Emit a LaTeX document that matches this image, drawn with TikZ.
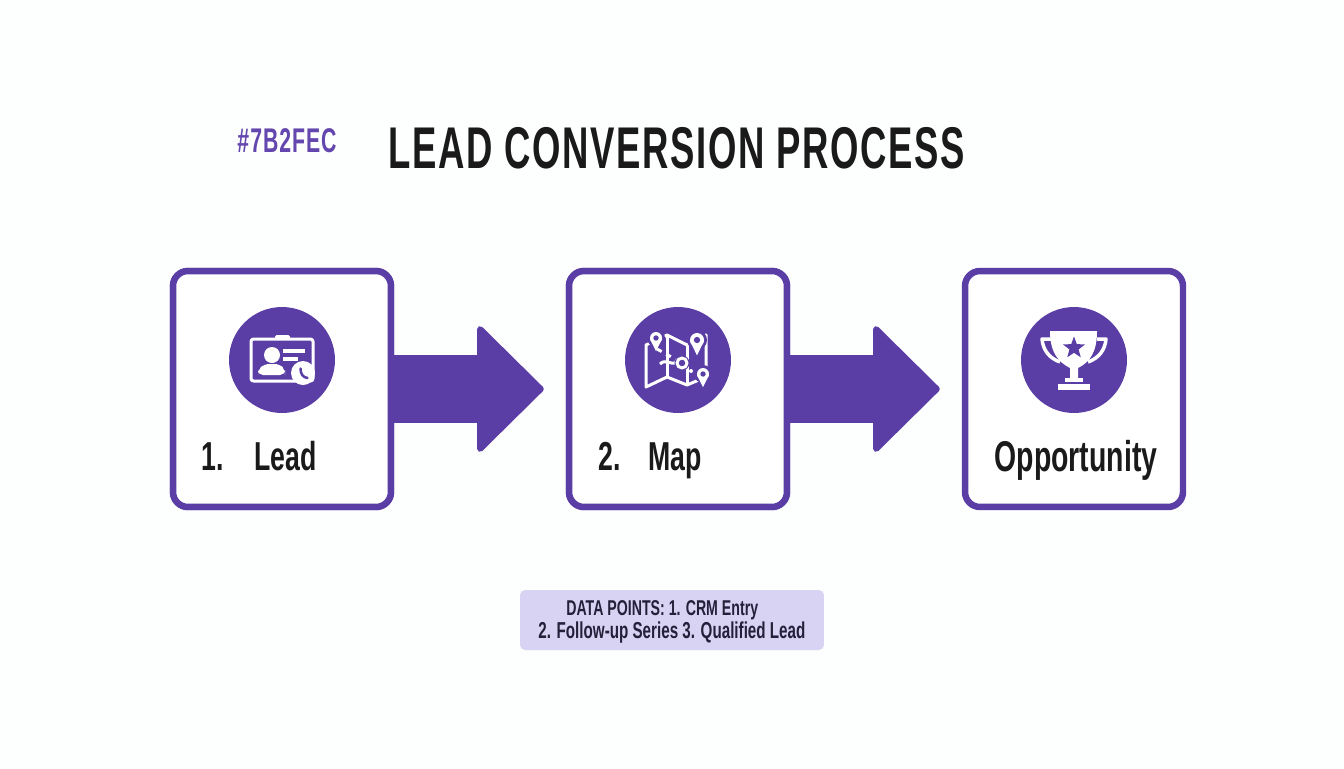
\documentclass[tikz,border=0pt]{standalone}
\usepackage{fontspec}
\usepackage{tikz}
\usepackage{xcolor}
\usetikzlibrary{calc,arrows.meta,shapes.geometric}
\newfontfamily\condfont[FakeStretch=0.66]{Liberation Sans}
\newfontfamily\titlefont[FakeStretch=0.62,LetterSpace=2.8]{Liberation Sans}
\definecolor{highlightcolor}{HTML}{5A3EA5}
\definecolor{hashcolor}{HTML}{6346AE}
\definecolor{washedcolor}{HTML}{D9D3F3}
\definecolor{textcolor}{HTML}{1A1A1A}
\definecolor{notecolor}{HTML}{24203A}
\definecolor{pagecolor}{HTML}{FDFEFE}
\tikzstyle{stepbox} = [
    draw=highlightcolor,
    fill=white,
    line width=0.13cm,
    rectangle,
    rounded corners=0.3cm,
    inner sep=0pt,
    minimum width=4.36cm,
    minimum height=4.72cm
    ]
\tikzstyle{iconback} = [
    fill=highlightcolor,
    circle,
    inner sep=0pt,
    minimum size=2.12cm
    ]
\tikzstyle{steplabel} = [
    text=textcolor,
    font=\condfont\bfseries\fontsize{23}{27}\selectfont,
    inner sep=0pt
    ]
\tikzstyle{notelabel} = [
    text=notecolor,
    inner sep=0pt,
    anchor=base west
    ]
\tikzstyle{flowarrow} = [
    highlightcolor,
    line width=1.36cm,
    shorten >=0.44cm,
    -{Triangle[length=1.36cm,width=2.66cm,round,line width=0.12cm]}
    ]
\tikzstyle{iconline} = [
    draw=white,
    line width=0.06cm,
    line join=round
    ]

\begin{document}
\begin{tikzpicture}[x=0.02cm,y=-0.02cm]
\useasboundingbox (0,0) rectangle (1344,768);
\fill[pagecolor] (0,0) rectangle (1344,768);

\node[text=hashcolor, inner sep=0pt, font=\titlefont\bfseries\fontsize{19.5}{22}\selectfont] (hash) at (287,141) {\#7B2FEC};
\node[text=textcolor, inner sep=0pt, font=\titlefont\bfseries\fontsize{33.5}{38}\selectfont] (title) at (677,148) {LEAD CONVERSION PROCESS};

\node[stepbox] (lead) at (282,389) {};
\node[stepbox] (map) at (678,389) {};
\node[stepbox] (opportunity) at (1074,389) {};

\draw[flowarrow] (lead) -- (map);
\draw[flowarrow] (map) -- (opportunity);
\node[stepbox] at (lead) {};
\node[stepbox] at (map) {};

\node[iconback] (leadicon) at (282,360) {};
\node[iconback] (mapicon) at (678,360) {};
\node[iconback] (cupicon) at (1074,360) {};

% id card
\draw[iconline, rounded corners=0.05cm] (251,339) rectangle (313,381);
\fill[white, rounded corners=0.03cm] (275,339) -- (275,335) -- (290,335) -- (290,339) -- cycle;
\fill[white] (272,355) circle (8);
\fill[white, rounded corners=0.1cm] (258,375) -- (258,370) -- (264,364) -- (280,364) -- (285,370) -- (285,375) -- cycle;
\fill[white] (283,349) rectangle (305,353);
\fill[white] (283,357) rectangle (298,361);
\fill[white] (303,373) circle (12);
\draw[highlightcolor, line width=0.05cm, line cap=round] (300.5,368.5) .. controls (300.5,374) and (303,377.5) .. (307.5,378);

% map
\draw[iconline] (646,345) -- (667,335) -- (687,345) -- (706,335) -- (706,377) -- (687,385) -- (667,377) -- (646,387) -- cycle;
\draw[iconline] (667,335) -- (667,377);
\draw[iconline] (687,345) -- (687,385);
\draw[iconline, dashed] (657,349) -- (682,363);
\draw[iconline] (660,364) .. controls (666,358) and (670,366) .. (677,362);
\fill[white] (691,371) circle (2);
\fill[highlightcolor] (682,363) circle (7.5);
\draw[iconline, fill=highlightcolor] (682,363) circle (5);
\foreach \px/\py/\pr in {656/338/6, 697/340/7, 703/374/6} {
    \fill[highlightcolor] (\px,\py) circle (\pr+3);
    \fill[white] (\px-\pr,\py+1) -- (\px+\pr,\py+1) -- (\px,\py+2.2*\pr) -- cycle;
    \fill[white] (\px,\py) circle (\pr);
    \fill[highlightcolor] (\px,\py) circle (\pr*0.45);
}

% trophy
\draw[iconline, line width=0.07cm] (1051,339) -- (1042,339) .. controls (1043,350) and (1049,358) .. (1060,362);
\draw[iconline, line width=0.07cm] (1097,339) -- (1106,339) .. controls (1105,350) and (1099,358) .. (1088,362);
\fill[white] (1050,331) -- (1097,331) .. controls (1097,352) and (1090,362) .. (1078,368) -- (1078,379) -- (1070,379) -- (1070,368) .. controls (1058,362) and (1050,352) .. (1050,331) -- cycle;
\fill[white] (1065,378) rectangle (1083,382);
\fill[white] (1058,384) rectangle (1090,390);
\node[star, star points=5, star point ratio=2.4, fill=highlightcolor, inner sep=0pt, minimum size=0.46cm] (cupstar) at (1074,348) {};

\node[steplabel, anchor=base west] (leadtext) at (201,470) {1.\hspace{0.62cm}Lead};
\node[steplabel, anchor=base west] (maptext) at (598,470) {2.\hspace{0.56cm}Map};
\node[steplabel, anchor=base, font=\condfont\bfseries\fontsize{24.5}{27}\selectfont] (opptext) at (1076,471) {Opportunity};

\node[fill=washedcolor, rounded corners=0.1cm, minimum width=6.08cm, minimum height=1.2cm, inner sep=0pt] (notebox) at (672,620) {};
\node[notelabel, font=\condfont\bfseries\fontsize{12.2}{14}\selectfont] (notea) at (566,615) {DATA POINTS: 1. CRM Entry};
\node[notelabel, font=\condfont\bfseries\fontsize{13.1}{15}\selectfont] (noteb) at (538,638) {2. Follow-up Series 3. Qualified Lead};
\end{tikzpicture}
\end{document}
